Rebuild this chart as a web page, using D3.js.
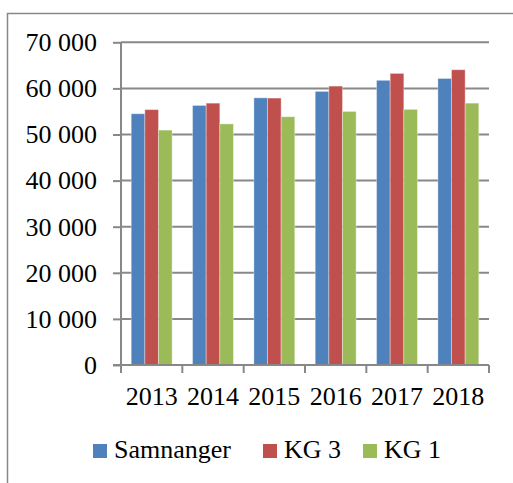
<!DOCTYPE html>
<html>
<head>
<meta charset="utf-8">
<script src="https://cdn.jsdelivr.net/npm/d3@7"></script>
<style>
	body { margin: 0; background: #fff; }
	svg { display: block; }
	svg text { font-family: "Liberation Serif", "Times New Roman", serif; font-size: 26px; }
</style>
</head>
<body>
<div></div>
<script>
const years = ["2013", "2014", "2015", "2016", "2017", "2018"];
const seriesNames = ["Samnanger", "KG 3", "KG 1"];
const samnanger = [54500, 56300, 57950, 59350, 61750, 62150];
const kg3 = [55400, 56800, 57900, 60500, 63250, 64050];
const kg1 = [50950, 52300, 53850, 55000, 55450, 56800];
const yTicks = [0, 10000, 20000, 30000, 40000, 50000, 60000, 70000];

const colors = ["#4F81BD", "#C0504D", "#9BBB59"];
const width = 513;
const height = 483;
const plotLeft = 121, plotRight = 489, plotTop = 42.3, plotBottom = 365;

const values = [samnanger, kg3, kg1];
const rows = years.map(function (y, i) {
	return { year: y, vals: values.map(function (s) { return s[i]; }) };
});

const fmt = d3.formatLocale({ decimal: ",", thousands: " ", grouping: [3], currency: ["", ""] }).format(",d");

const svg = d3.select("div")
	.append("svg")
	.attr("width", width)
	.attr("height", height);

// outer frame (only left and top edges visible)
svg.append("path")
	.attr("d", "M 7.5 " + (height + 2) + " L 7.5 13.5 L " + (width + 2) + " 13.5")
	.attr("fill", "none")
	.style("stroke", "#888")
	.style("stroke-width", 1.5);

const x0 = d3.scaleBand()
	.domain(years)
	.range([plotLeft, plotRight]);

const step = x0.step();
const x1 = d3.scaleBand()
	.domain(seriesNames)
	.range([step / 6, step * 5 / 6]);

const y = d3.scaleLinear()
	.domain([0, 70000])
	.range([plotBottom, plotTop]);

// gridlines
svg.append("g")
	.selectAll("line")
	.data(yTicks.slice(1))
	.enter()
	.append("line")
	.attr("x1", plotLeft)
	.attr("x2", plotRight)
	.attr("y1", function (d) { return y(d); })
	.attr("y2", function (d) { return y(d); })
	.style("stroke", "#888")
	.style("stroke-width", 2);

// y axis
const yAxis = svg.append("g")
	.attr("transform", "translate(" + plotLeft + ",0)")
	.call(d3.axisLeft(y).tickValues(yTicks).tickFormat(fmt).tickSize(8).tickPadding(16))
	.attr("font-family", null)
	.attr("font-size", null);
yAxis.select(".domain").style("stroke", "#888").style("stroke-width", 2).attr("d", "M0," + plotBottom + "V" + plotTop);
yAxis.selectAll(".tick line").style("stroke", "#888").style("stroke-width", 2);
yAxis.selectAll("text").attr("fill", "#000");

// bars
const groups = svg.append("g")
	.selectAll("g")
	.data(rows)
	.enter()
	.append("g")
	.attr("transform", function (d) { return "translate(" + x0(d.year) + ",0)"; });

groups.selectAll("rect")
	.data(function (d) { return d.vals.map(function (v, i) { return { name: seriesNames[i], v: v, i: i }; }); })
	.enter()
	.append("rect")
	.attr("x", function (d) { return x1(d.name); })
	.attr("y", function (d) { return y(d.v); })
	.attr("width", x1.bandwidth())
	.attr("height", function (d) { return plotBottom - y(d.v); })
	.attr("fill", function (d) { return colors[d.i]; })
	.style("stroke", "rgba(255,255,255,0.35)")
	.style("stroke-width", 1);

// x axis
const xAxis = svg.append("g")
	.attr("transform", "translate(0," + plotBottom + ")")
	.call(d3.axisBottom(x0).tickSize(0).tickPadding(0))
	.attr("font-family", null)
	.attr("font-size", null);
xAxis.select(".domain").remove();
xAxis.selectAll("text")
	.attr("y", 40)
	.attr("dy", 0)
	.attr("fill", "#000");

xAxis.append("line")
	.attr("x1", plotLeft - 8)
	.attr("x2", plotRight)
	.style("stroke", "#888")
	.style("stroke-width", 2);

xAxis.selectAll(".bound")
	.data(d3.range(years.length + 1))
	.enter()
	.append("line")
	.attr("class", "bound")
	.attr("x1", function (i) { return x0.range()[0] + i * step; })
	.attr("x2", function (i) { return x0.range()[0] + i * step; })
	.attr("y1", 0)
	.attr("y2", 8)
	.style("stroke", "#888")
	.style("stroke-width", 2);

// legend
const legendX = [93, 263, 363];
const legend = svg.append("g")
	.selectAll("g")
	.data(seriesNames)
	.enter()
	.append("g")
	.attr("transform", function (d, i) { return "translate(" + legendX[i] + ",444)"; });

legend.append("rect")
	.attr("width", 14)
	.attr("height", 14)
	.attr("fill", function (d, i) { return colors[i]; });

legend.append("text")
	.attr("x", 21)
	.attr("y", 14)
	.text(function (d) { return d; });
</script>
</body>
</html>
